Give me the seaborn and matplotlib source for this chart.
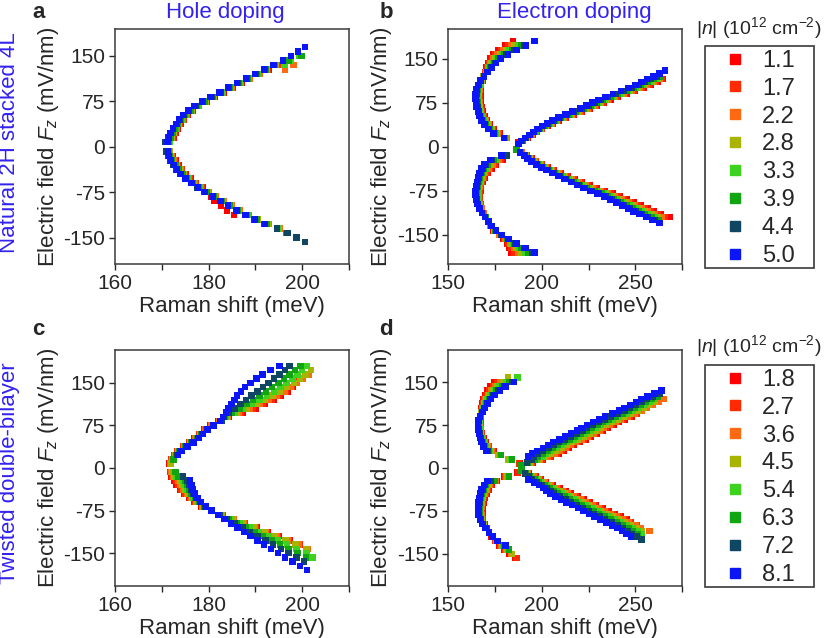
import pandas as pd
import seaborn as sns
import matplotlib.pyplot as plt
from matplotlib.lines import Line2D
from matplotlib.patches import Rectangle

sns.set_style('ticks')
plt.rcParams['font.family'] = ['Liberation Sans', 'DejaVu Sans']
plt.rcParams['mathtext.fontset'] = 'custom'
plt.rcParams['mathtext.rm'] = 'Liberation Sans'
plt.rcParams['mathtext.it'] = 'Liberation Sans:italic'
plt.rcParams['axes.unicode_minus'] = False

# doping levels |n| (10^12 cm^-2) and their colours
n_top = ['1.1', '1.7', '2.2', '2.8', '3.3', '3.9', '4.4', '5.0']
n_bot = ['1.8', '2.7', '3.6', '4.5', '5.4', '6.3', '7.2', '8.1']
colors = ['#ff0000', '#ff2a00', '#ff6a10', '#a8b400', '#3cd21e', '#12a512', '#0e4664', '#0a16f5']

# each branch: field values (mV/nm) + per density (first field index, Raman shifts in meV)
# ---- a : natural 4L, hole doping
a_up_field = [7.5, 15, 22.5, 30, 37.5, 45, 52.5, 60, 67.5, 75, 82.5, 90, 97.5, 105, 112.5, 120, 127.5, 135, 142.5, 150, 157.5, 165]
a_up = {
    '1.1': (1, [172.6, 173.0, 173.4, 174.0, 174.7, 175.5, 176.6, 178.0, 179.6, 181.3, 183.2, 185.1, 187.0, 188.9, 190.8, 192.8]),
    '1.7': (1, [172.4, 172.8, 173.3, 173.9, 174.6, 175.4, 176.5, 177.9, 179.5, 181.2, 183.1, 185.0, 186.9, 188.8, 190.7, 192.7, 194.8]),
    '2.2': (0, [171.8, 172.2, 172.6, 173.1, 173.7, 174.4, 175.3, 176.4, 177.8, 179.4, 181.1, 183.0, 184.9, 186.8, 188.7, 191.0, 196.3, 198.1]),
    '2.8': (0, [171.7, 172.1, 172.5, 173.0, 173.6, 174.3, 175.2, 176.3, 177.7, 179.3, 181.0, 182.9, 184.8, 186.7, 188.6, 190.5, 192.4, 194.4, 197.0]),
    '3.3': (0, [171.6, 172.0, 172.4, 172.9, 173.5, 174.2, 175.1, 176.2, 177.6, 179.2, 180.9, 182.8, 184.7, 186.6, 188.5, 190.4, 192.3, 196.2, 197.5, 199.4]),
    '3.9': (0, [171.5, 171.9, 172.3, 172.8, 173.4, 174.1, 175.0, 176.1, 177.5, 179.1, 180.8, 182.7, 184.6, 186.5, 188.4, 190.3, 192.2, 194.2, 197.1, 199.9]),
    '4.4': (0, [170.8, 171.3, 171.8, 172.4, 173.1, 173.8, 174.7, 175.8, 177.2, 178.8, 180.6, 182.5, 184.4, 186.3, 188.2, 190.1, 192.0, 194.0]),
    '5.0': (0, [171.2, 171.5, 171.9, 172.4, 173.0, 173.7, 174.5, 175.6, 177.0, 178.6, 180.4, 182.3, 184.2, 186.1, 188.0, 189.9, 191.8, 193.9, 195.9, 197.6, 199.1, 200.6]),
}
a_dn_field = [-7.5, -15, -22.5, -30, -37.5, -45, -52.5, -60, -67.5, -75, -82.5, -90, -97.5, -105, -112.5, -120, -127.5, -135, -142.5, -150, -157.5]
a_dn = {
    '1.1': (1, [172.3, 172.9, 173.6, 174.3, 175.1, 176.1, 177.3, 178.7, 179.8, 180.5, 181.3, 182.7, 183.9, 185.4]),
    '1.7': (0, [171.8, 172.2, 172.8, 173.5, 174.2, 175.0, 176.0, 177.2, 178.6, 180.1, 181.5, 182.9, 184.5, 186.4, 188.5, 190.5, 192.6]),
    '2.2': (0, [171.7, 172.1, 172.6, 173.3, 174.0, 174.8, 175.8, 177.0, 178.4, 180.0, 181.6, 183.2, 184.9, 186.7, 188.6, 190.6, 192.9, 195.3]),
    '2.8': (0, [171.6, 171.9, 172.4, 173.1, 173.8, 174.6, 175.6, 176.8, 178.2, 179.8, 181.4, 183.0, 184.7, 186.5, 188.4, 190.4, 192.7, 195.0]),
    '3.3': (0, [171.5, 171.8, 172.3, 173.0, 173.7, 174.5, 175.5, 176.7, 178.1, 179.7, 181.3, 182.9, 184.6, 186.4, 188.3, 190.3, 192.5, 194.8, 196.8]),
    '3.9': (0, [171.4, 171.7, 172.2, 172.9, 173.6, 174.4, 175.4, 176.6, 178.0, 179.6, 181.2, 182.8, 184.5, 186.3, 188.2, 190.2, 192.4, 194.6, 196.6]),
    '4.4': (0, [171.0, 171.4, 171.9, 172.5, 173.2, 174.0, 175.0, 176.2, 177.6, 179.1, 180.8, 182.4, 184.1, 185.9, 187.8, 189.8, 192.0, 194.6, 196.9, 198.8, 200.6]),
    '5.0': (0, [171.3, 171.5, 172.0, 172.6, 173.3, 174.1, 175.1, 176.3, 177.7, 179.2, 180.9, 182.5, 184.2, 186.0, 187.9, 189.9, 192.1]),
}

# ---- b : natural 4L, electron doping
b_arc_up_field = [7.5, 15, 22.5, 30, 37.5, 45, 52.5, 60, 67.5, 75, 82.5, 90, 97.5, 105, 112.5, 120, 127.5, 135, 142.5, 150, 157.5, 165, 172.5, 180]
b_arc_up = {
    '1.1': (0, [187.5, 181.5, 177.5, 174.5, 172.3, 170.6, 169.3, 168.4, 167.8, 167.4, 167.2, 167.2, 167.3, 167.6, 168.2, 168.9, 169.6, 170.4, 171.3, 172.5, 174.1, 176.6, 180.5, 184.5]),
    '1.7': (1, [181.2, 177.0, 174.0, 171.9, 170.2, 168.9, 168.0, 167.4, 167.0, 166.8, 166.8, 167.0, 167.3, 168.1, 168.9, 169.8, 170.8, 171.9, 173.4, 175.3, 178.1, 182.2]),
    '2.2': (1, [181.0, 176.5, 173.5, 171.4, 169.8, 168.5, 167.6, 167.0, 166.6, 166.4, 166.5, 166.6, 167.1, 167.9, 168.9, 170.1, 171.3, 172.6, 174.2, 176.4, 179.5, 183.8]),
    '2.8': (1, [180.7, 176.0, 173.1, 171.0, 169.3, 168.1, 167.2, 166.6, 166.2, 166.0, 166.1, 166.3, 166.8, 167.8, 168.9, 170.3, 171.7, 173.2, 175.1, 177.6, 181.0, 185.5]),
    '3.3': (1, [180.4, 175.5, 172.6, 170.5, 168.9, 167.7, 166.8, 166.2, 165.8, 165.6, 165.7, 166.0, 166.6, 167.6, 169.0, 170.5, 172.1, 173.9, 176.0, 178.8, 182.5, 187.2]),
    '3.9': (1, [180.2, 175.0, 172.1, 170.1, 168.5, 167.3, 166.5, 165.9, 165.5, 165.3, 165.3, 165.7, 166.3, 167.5, 169.0, 170.7, 172.6, 174.5, 176.9, 180.0, 184.0, 188.8]),
    '4.4': (1, [179.9, 174.5, 171.6, 169.6, 168.1, 166.9, 166.1, 165.5, 165.1, 164.9, 165.0, 165.3, 166.1, 167.3, 169.0, 171.0, 173.0, 175.2, 177.7, 181.1, 185.4, 190.5]),
    '5.0': (1, [179.7, 174.2, 171.3, 169.3, 167.8, 166.6, 165.8, 165.2, 164.8, 164.6, 164.7, 165.1, 165.9, 167.2, 169.0, 171.1, 173.3, 175.6, 178.3, 181.9, 186.4, 191.6, 196.0]),
}
b_line_up_field = [5, 10, 15, 20, 25, 30, 35, 40, 45, 50, 55, 60, 65, 70, 75, 80, 85, 90, 95, 100, 105, 110, 115, 120, 125, 130]
b_line_up = {
    '1.1': (0, [187.8, 189.7, 192.2, 194.9, 197.5, 200.2, 203.0, 205.9, 209.1, 212.8, 217.0, 221.2, 225.6, 229.4, 233.1, 236.6, 240.8, 245.3, 249.8, 254.3, 258.3, 262.0, 264.8]),
    '1.7': (0, [187.8, 189.6, 192.1, 194.7, 197.3, 199.9, 202.7, 205.5, 208.7, 212.3, 216.5, 220.6, 225.0, 228.7, 232.4, 235.8, 240.0, 244.4, 248.9, 253.3, 257.3, 260.9, 264.3]),
    '2.2': (0, [187.7, 189.5, 191.9, 194.5, 197.0, 199.6, 202.3, 205.1, 208.2, 211.8, 215.9, 220.0, 224.3, 228.0, 231.6, 235.0, 239.1, 243.5, 247.9, 252.3, 256.2, 259.8, 263.1]),
    '2.8': (0, [187.7, 189.4, 191.8, 194.3, 196.8, 199.3, 202.0, 204.7, 207.8, 211.3, 215.4, 219.4, 223.7, 227.3, 230.9, 234.2, 238.3, 242.6, 247.0, 251.3, 255.2, 258.7, 262.0]),
    '3.3': (0, [187.6, 189.3, 191.6, 194.1, 196.5, 199.0, 201.6, 204.3, 207.3, 210.8, 214.8, 218.8, 223.0, 226.6, 230.1, 233.4, 237.4, 241.7, 246.0, 250.3, 254.1, 257.6, 260.8]),
    '3.9': (0, [187.6, 189.2, 191.5, 193.9, 196.3, 198.7, 201.3, 203.9, 206.9, 210.3, 214.3, 218.2, 222.4, 225.9, 229.4, 232.6, 236.6, 240.8, 245.1, 249.3, 253.0, 256.5, 259.7, 263.1]),
    '4.4': (0, [187.5, 189.1, 191.2, 193.6, 195.9, 198.3, 200.7, 203.3, 206.2, 209.6, 213.4, 217.3, 221.4, 224.9, 228.2, 231.4, 235.3, 239.5, 243.6, 247.8, 251.5, 254.9, 257.9, 261.3]),
    '5.0': (0, [187.4, 188.9, 191.0, 193.3, 195.5, 197.8, 200.2, 202.7, 205.5, 208.8, 212.6, 216.4, 220.4, 223.8, 227.1, 230.2, 234.0, 238.1, 242.2, 246.3, 249.9, 253.2, 256.2, 259.5, 262.8, 265.8]),
}
b_arc_dn_field = [-7.5, -15, -22.5, -30, -37.5, -45, -52.5, -60, -67.5, -75, -82.5, -90, -97.5, -105, -112.5, -120, -127.5, -135, -142.5, -150, -157.5, -165, -172.5, -180]
b_arc_dn = {
    '1.1': (2, [179.0, 175.5, 173.0, 171.0, 169.5, 168.4, 167.6, 167.1, 166.9, 167.0, 167.4, 168.1, 169.0, 170.1, 171.3, 172.6, 174.2, 177.0, 179.6, 181.4, 182.6, 183.4]),
    '1.7': (2, [178.0, 174.6, 172.2, 170.4, 169.0, 168.0, 167.2, 166.7, 166.6, 166.7, 167.1, 167.9, 168.9, 170.0, 171.3, 172.7, 174.4, 177.3, 180.0, 182.2, 183.9, 185.3]),
    '2.2': (2, [177.1, 173.7, 171.5, 169.7, 168.5, 167.5, 166.8, 166.4, 166.2, 166.3, 166.8, 167.7, 168.7, 170.0, 171.3, 172.7, 174.6, 177.5, 180.4, 182.9, 185.2, 187.2]),
    '2.8': (2, [176.1, 172.8, 170.7, 169.1, 167.9, 167.1, 166.4, 166.0, 165.9, 166.0, 166.6, 167.4, 168.6, 169.9, 171.3, 172.8, 174.8, 177.8, 180.8, 183.7, 186.5, 189.1]),
    '3.3': (2, [175.2, 171.9, 169.9, 168.5, 167.4, 166.6, 166.0, 165.7, 165.5, 165.7, 166.3, 167.2, 168.4, 169.9, 171.4, 172.8, 175.0, 178.0, 181.2, 184.5, 187.8, 191.0]),
    '3.9': (2, [174.2, 171.0, 169.2, 167.9, 166.9, 166.2, 165.7, 165.3, 165.2, 165.4, 166.0, 167.0, 168.3, 169.8, 171.4, 172.9, 175.2, 178.3, 181.6, 185.2, 189.1, 192.9]),
    '4.4': (1, [181.0, 173.2, 170.1, 168.4, 167.2, 166.4, 165.7, 165.3, 164.9, 164.8, 165.0, 165.7, 166.8, 168.1, 169.7, 171.4, 173.0, 175.4, 178.5, 181.9, 186.0, 190.4, 194.7]),
    '5.0': (1, [178.5, 172.6, 169.5, 167.9, 166.8, 166.0, 165.4, 165.0, 164.7, 164.6, 164.8, 165.5, 166.6, 168.0, 169.7, 171.4, 173.0, 175.5, 178.7, 182.2, 186.5, 191.3, 196.0]),
}
b_line_dn_field = [-5, -10, -15, -20, -25, -30, -35, -40, -45, -50, -55, -60, -65, -70, -75, -80, -85, -90, -95, -100, -105, -110, -115, -120, -125, -130]
b_line_dn = {
    '1.1': (0, [186.8, 189.3, 191.9, 194.4, 196.9, 200.1, 203.3, 206.6, 210.2, 213.9, 217.6, 221.5, 225.4, 229.3, 233.6, 237.8, 241.6, 245.3, 249.0, 252.8, 256.4, 260.0, 263.7, 268.5]),
    '1.7': (0, [186.7, 189.2, 191.7, 194.1, 196.5, 199.7, 202.8, 206.0, 209.5, 213.2, 216.8, 220.6, 224.4, 228.3, 232.5, 236.6, 240.3, 244.0, 247.6, 251.3, 254.8, 258.4, 262.0, 265.7]),
    '2.2': (0, [186.7, 189.0, 191.5, 193.8, 196.2, 199.2, 202.3, 205.4, 208.9, 212.4, 216.0, 219.7, 223.5, 227.2, 231.4, 235.4, 239.1, 242.6, 246.2, 249.8, 253.3, 256.7, 260.3, 263.9]),
    '2.8': (0, [186.6, 188.9, 191.2, 193.5, 195.8, 198.8, 201.7, 204.8, 208.2, 211.7, 215.1, 218.8, 222.5, 226.2, 230.2, 234.2, 237.8, 241.3, 244.7, 248.3, 251.7, 255.1, 258.5, 262.1]),
    '3.3': (0, [186.5, 188.7, 191.0, 193.2, 195.4, 198.3, 201.2, 204.2, 207.5, 210.9, 214.3, 217.9, 221.5, 225.1, 229.1, 233.0, 236.5, 239.9, 243.3, 246.8, 250.1, 253.4, 256.8, 260.3]),
    '3.9': (0, [186.4, 188.6, 190.8, 192.9, 195.0, 197.9, 200.7, 203.6, 206.8, 210.2, 213.5, 217.0, 220.5, 224.1, 228.0, 231.8, 235.2, 238.6, 241.9, 245.3, 248.5, 251.8, 255.1, 258.5, 262.2]),
    '4.4': (1, [188.4, 190.6, 192.6, 194.7, 197.4, 200.2, 203.0, 206.2, 209.4, 212.7, 216.1, 219.6, 223.0, 226.9, 230.6, 234.0, 237.2, 240.5, 243.8, 247.0, 250.1, 253.4, 256.7, 260.4]),
    '5.0': (1, [188.3, 190.4, 192.4, 194.4, 197.1, 199.8, 202.6, 205.7, 208.9, 212.1, 215.5, 218.9, 222.3, 226.1, 229.8, 233.1, 236.3, 239.5, 242.8, 245.9, 249.0, 252.2, 255.5, 259.1, 262.7]),
}

# ---- c : twisted double bilayer, hole doping
c_up_field = [7.5, 15, 22.5, 30, 37.5, 45, 52.5, 60, 67.5, 75, 82.5, 90, 97.5, 105, 112.5, 120, 127.5, 135, 142.5, 150, 157.5, 165, 172.5, 180]
c_up = {
    '1.8': (0, [171.7, 172.0, 172.6, 173.3, 174.5, 175.8, 177.0, 178.0, 179.1, 180.4, 182.1, 184.4, 187.3, 190.0, 192.1, 193.9, 195.5, 196.9, 198.0, 198.6]),
    '2.7': (0, [171.8, 172.1, 172.7, 173.4, 174.6, 175.9, 177.1, 178.1, 179.2, 180.5, 182.2, 184.2, 186.9, 189.5, 191.6, 193.4, 195.0, 196.5, 197.7, 198.7, 199.4]),
    '3.6': (0, [171.9, 172.2, 172.8, 173.5, 174.7, 176.0, 177.2, 178.2, 179.3, 180.6, 182.3, 184.0, 186.5, 188.9, 191.0, 192.9, 194.6, 196.2, 197.6, 198.9, 200.1, 201.4]),
    '4.5': (0, [172.0, 172.3, 172.9, 173.6, 174.8, 176.1, 177.3, 178.3, 179.4, 180.7, 182.4, 183.8, 186.0, 188.2, 190.2, 192.0, 193.7, 195.3, 196.8, 198.2, 199.5, 200.7, 201.9]),
    '5.4': (1, [172.4, 173.0, 173.7, 174.9, 176.2, 177.4, 178.4, 179.5, 180.8, 182.5, 183.6, 185.5, 187.4, 189.2, 190.9, 192.5, 194.0, 195.4, 196.7, 197.9, 199.0, 200.0, 200.9]),
    '6.3': (1, [172.5, 173.1, 173.8, 175.0, 176.3, 177.5, 178.5, 179.6, 180.9, 182.6, 183.4, 185.0, 186.6, 188.1, 189.5, 190.9, 192.3, 193.6, 194.9, 196.1, 197.3, 198.5, 199.6]),
    '7.2': (2, [173.3, 174.0, 175.2, 176.5, 177.7, 178.7, 179.8, 181.1, 182.8, 183.2, 184.4, 185.6, 186.8, 188.0, 189.2, 190.4, 191.6, 192.8, 194.0, 195.2, 196.3, 197.3]),
    '8.1': (2, [173.5, 174.2, 175.5, 176.8, 177.8, 178.8, 179.8, 181.0, 182.4, 183.1, 183.7, 184.3, 184.9, 185.5, 186.1, 186.9, 187.8, 189.0, 190.2, 191.5, 193.2, 195.2]),
}
c_dn_field = [-7.5, -15, -22.5, -30, -37.5, -45, -52.5, -60, -67.5, -75, -82.5, -90, -97.5, -105, -112.5, -120, -127.5, -135, -142.5, -150, -157.5, -165, -172.5, -180]
c_dn = {
    '1.8': (0, [171.8, 172.1, 172.7, 173.2, 173.9, 174.9, 175.8, 177.0, 178.5, 180.6, 183.0, 185.4, 187.8, 190.2, 192.6, 195.0, 197.4]),
    '2.7': (0, [171.9, 172.2, 173.0, 173.5, 174.2, 175.1, 176.0, 177.1, 178.6, 180.6, 183.0, 185.3, 187.7, 190.1, 192.4, 194.8, 197.1, 199.5]),
    '3.6': (0, [172.0, 172.4, 173.5, 174.0, 174.6, 175.4, 176.3, 177.4, 178.7, 180.6, 182.9, 185.3, 187.6, 189.9, 192.2, 194.6, 196.9, 199.2, 201.2]),
    '4.5': (0, [172.2, 172.7, 174.0, 174.4, 175.0, 175.7, 176.5, 177.6, 178.9, 180.6, 182.9, 185.1, 187.4, 189.6, 191.9, 194.1, 196.4, 198.6, 200.9]),
    '5.4': (0, [172.6, 173.2, 174.5, 174.9, 175.4, 176.1, 176.8, 177.8, 179.0, 180.6, 182.6, 184.7, 186.7, 188.7, 190.7, 192.8, 194.8, 196.8, 198.8, 200.9, 202.2]),
    '6.3': (0, [172.9, 173.6, 175.0, 175.4, 175.8, 176.4, 177.1, 178.0, 179.1, 180.6, 182.4, 184.3, 186.1, 188.0, 189.8, 191.6, 193.5, 195.3, 197.1, 199.0, 200.8]),
    '7.2': (1, [174.5, 175.5, 175.8, 176.2, 176.7, 177.4, 178.2, 179.3, 180.6, 182.3, 183.9, 185.6, 187.2, 188.9, 190.5, 192.2, 193.8, 195.5, 197.1, 198.8, 200.4]),
    '8.1': (2, [176.0, 176.3, 176.6, 177.0, 177.6, 178.4, 179.4, 180.6, 182.0, 183.4, 184.8, 186.2, 187.6, 189.0, 190.4, 191.8, 193.3, 194.8, 196.3, 197.9, 199.5, 201.0]),
}

# ---- d : twisted double bilayer, electron doping
d_arc_up_field = [7.5, 15, 22.5, 30, 37.5, 45, 52.5, 60, 67.5, 75, 82.5, 90, 97.5, 105, 112.5, 120, 127.5, 135, 142.5, 150, 157.5]
d_arc_up = {
    '1.8': (0, [188.0, 183.0, 178.0, 174.3, 171.8, 170.0, 168.8, 168.0, 167.5, 167.3, 167.3, 167.4, 167.6, 167.9, 168.3, 168.8, 169.6, 170.9, 172.7, 174.6]),
    '2.7': (0, [187.7, 182.7, 177.6, 173.7, 171.4, 169.7, 168.5, 167.8, 167.3, 167.1, 167.1, 167.3, 167.7, 168.1, 168.7, 169.4, 170.4, 171.9, 173.9, 176.2]),
    '3.6': (1, [182.3, 177.2, 173.2, 170.9, 169.4, 168.3, 167.5, 167.1, 166.9, 167.0, 167.3, 167.8, 168.4, 169.1, 169.9, 171.2, 172.9, 175.1, 177.7]),
    '4.5': (1, [182.0, 176.8, 172.6, 170.5, 169.1, 168.0, 167.3, 166.8, 166.7, 166.8, 167.2, 167.9, 168.6, 169.5, 170.5, 171.9, 173.9, 176.3, 179.3, 181.9]),
    '5.4': (1, [183.5, 177.8, 172.0, 170.1, 168.7, 167.7, 167.0, 166.6, 166.5, 166.6, 167.2, 168.0, 168.9, 169.9, 171.1, 172.7, 174.9, 177.4, 180.8, 187.0]),
    '6.3': (1, [184.0, 178.3, 171.5, 169.6, 168.4, 167.5, 166.8, 166.4, 166.3, 166.5, 167.1, 168.1, 169.1, 170.3, 171.7, 173.5, 175.9, 178.6, 182.4]),
    '7.2': (3, [170.9, 169.2, 168.1, 167.2, 166.6, 166.2, 166.0, 166.3, 167.0, 168.1, 169.3, 170.7, 172.2, 174.3, 176.9, 179.8, 184.0]),
    '8.1': (3, [170.5, 168.9, 167.9, 167.0, 166.4, 166.0, 165.9, 166.2, 167.0, 168.2, 169.5, 171.0, 172.6, 174.8, 177.6, 180.6, 185.0]),
}
d_line_up_field = [5, 10, 15, 20, 25, 30, 35, 40, 45, 50, 55, 60, 65, 70, 75, 80, 85, 90, 95, 100, 105, 110, 115, 120, 125, 130, 135]
d_line_up = {
    '1.8': (0, [189.5, 195.0, 200.5, 205.0, 208.8, 211.5, 214.5, 217.2, 220.0, 223.3, 226.3, 229.5, 232.7, 235.2, 238.2, 241.2, 244.4, 247.8]),
    '2.7': (0, [189.4, 194.6, 199.8, 204.0, 207.8, 210.5, 213.5, 216.2, 219.0, 222.3, 225.3, 228.5, 231.7, 234.2, 237.2, 240.2, 243.4, 246.8, 250.7]),
    '3.6': (0, [189.3, 194.2, 199.0, 203.0, 206.8, 209.5, 212.5, 215.2, 218.0, 221.3, 224.3, 227.5, 230.7, 233.2, 236.2, 239.2, 242.4, 245.8, 249.7, 253.1, 256.2, 259.3, 262.2, 265.0]),
    '4.5': (0, [189.2, 193.8, 198.2, 201.8, 204.8, 207.5, 210.5, 213.2, 216.0, 219.3, 222.3, 225.5, 228.7, 231.2, 234.2, 237.2, 240.4, 243.8, 247.7, 251.1, 254.2, 257.3, 260.2]),
    '5.4': (0, [189.1, 193.2, 197.2, 200.0, 202.3, 205.0, 208.0, 210.7, 213.5, 216.8, 219.8, 223.0, 226.2, 228.7, 231.7, 234.7, 237.9, 241.3, 245.2, 248.6, 251.7, 254.8, 257.7, 260.5]),
    '6.3': (0, [189.0, 192.6, 196.0, 198.0, 200.3, 203.0, 206.0, 208.7, 211.5, 214.8, 217.8, 221.0, 224.2, 226.7, 229.7, 232.7, 235.9, 239.3, 243.2, 246.6, 249.7, 252.8, 255.7, 258.5, 261.9]),
    '7.2': (1, [192.0, 194.5, 195.5, 197.8, 200.5, 203.5, 206.2, 209.0, 212.3, 215.3, 218.5, 221.7, 224.2, 227.2, 230.2, 233.4, 236.8, 240.7, 244.1, 247.2, 250.3, 253.2, 256.0, 259.4, 263.2]),
    '8.1': (3, [192.5, 194.8, 197.5, 200.5, 203.2, 206.0, 209.3, 212.3, 215.5, 218.7, 221.2, 224.2, 227.2, 230.4, 233.8, 237.7, 241.1, 244.2, 247.3, 250.2, 253.0, 256.4, 260.2, 264.0]),
}
d_arc_dn_field = [-7.5, -15, -22.5, -30, -37.5, -45, -52.5, -60, -67.5, -75, -82.5, -90, -97.5, -105, -112.5, -120, -127.5, -135, -142.5, -150, -157.5]
d_arc_dn = {
    '1.8': (0, [187.0, 180.0, 175.8, 173.3, 171.6, 170.4, 169.5, 168.9, 168.5, 168.3, 168.3, 168.6, 169.3, 170.4, 171.7, 173.2, 175.0, 177.2, 179.7, 182.6, 186.0]),
    '2.7': (0, [187.3, 180.5, 175.5, 172.7, 171.0, 169.9, 169.1, 168.5, 168.1, 168.0, 168.0, 168.4, 169.1, 170.3, 171.7, 173.3, 175.2, 177.7, 180.5, 183.5, 186.5]),
    '3.6': (1, [181.0, 175.3, 172.0, 170.5, 169.4, 168.6, 168.1, 167.8, 167.6, 167.7, 168.1, 169.0, 170.2, 171.7, 173.4, 175.4, 178.2, 181.0, 183.5]),
    '4.5': (1, [181.5, 175.1, 171.4, 169.9, 168.9, 168.2, 167.7, 167.4, 167.3, 167.4, 167.9, 168.8, 170.1, 171.7, 173.5, 175.6, 178.7, 181.5, 184.0]),
    '5.4': (1, [182.0, 174.9, 170.8, 169.4, 168.4, 167.8, 167.3, 167.1, 166.9, 167.0, 167.6, 168.6, 170.0, 171.7, 173.6, 175.8, 179.2, 182.0]),
    '6.3': (1, [182.5, 174.7, 170.2, 168.8, 167.9, 167.3, 166.9, 166.7, 166.6, 166.7, 167.4, 168.5, 170.0, 171.7, 173.7, 176.0, 179.7, 182.5]),
    '7.2': (2, [172.5, 169.5, 168.3, 167.4, 166.9, 166.6, 166.3, 166.2, 166.4, 167.2, 168.3, 169.9, 171.7, 173.7, 176.2, 180.2]),
    '8.1': (2, [171.0, 169.1, 167.9, 167.1, 166.6, 166.3, 166.1, 166.0, 166.2, 167.0, 168.2, 169.8, 171.7, 173.8, 176.3, 180.5]),
}
d_line_dn_field = [-5, -10, -15, -20, -25, -30, -35, -40, -45, -50, -55, -60, -65, -70, -75, -80, -85, -90, -95, -100, -105, -110, -115, -120, -125]
d_line_dn = {
    '1.8': (0, [189.5, 193.0, 196.5, 199.5, 202.3, 205.6, 209.3, 212.6, 215.3, 219.0, 222.4, 225.5, 229.0, 232.4, 235.7, 238.9, 242.0, 245.2]),
    '2.7': (0, [189.4, 192.7, 196.0, 199.0, 201.8, 205.0, 208.6, 211.8, 214.4, 218.1, 221.4, 224.5, 228.0, 231.3, 234.6, 237.8, 240.9, 244.1, 247.7, 250.9]),
    '3.6': (0, [189.3, 192.4, 195.5, 198.4, 201.3, 204.6, 208.0, 211.1, 213.7, 217.3, 220.6, 223.6, 227.1, 230.4, 233.7, 236.8, 239.9, 243.1, 246.6, 249.9, 253.0, 257.5]),
    '4.5': (0, [189.2, 192.0, 194.8, 197.6, 200.4, 203.5, 206.8, 209.6, 212.0, 215.5, 218.7, 221.8, 225.1, 228.4, 231.7, 234.8, 237.8, 240.9, 244.5, 247.7, 250.8, 253.3]),
    '5.4': (0, [189.1, 191.6, 194.1, 196.8, 199.4, 202.5, 205.5, 208.1, 210.4, 213.7, 216.9, 219.9, 223.2, 226.5, 229.6, 232.7, 235.7, 238.8, 242.3, 245.5, 248.5, 251.1, 253.5]),
    '6.3': (0, [189.0, 191.3, 193.5, 196.0, 198.4, 201.4, 204.2, 206.6, 208.7, 212.0, 215.1, 218.0, 221.2, 224.5, 227.6, 230.6, 233.6, 236.7, 240.2, 243.3, 246.3, 248.8, 251.2]),
    '7.2': (1, [191.0, 192.8, 194.8, 197.1, 200.0, 202.5, 204.6, 206.5, 209.6, 212.6, 215.5, 218.6, 221.8, 224.9, 227.9, 230.8, 233.8, 237.3, 240.4, 243.4, 245.8, 248.1, 250.6, 253.1]),
    '8.1': (3, [193.0, 195.8, 198.6, 200.8, 202.6, 204.3, 207.3, 210.2, 213.0, 216.0, 219.2, 222.2, 225.1, 228.0, 231.0, 234.4, 237.5, 240.4, 242.8, 245.1, 247.5]),
}


def make_df(branches, order):
    rows = []
    for field, branch in branches:
        for n, (start, shifts) in branch.items():
            for j, x in enumerate(shifts):
                rows.append((n, x, field[start + j]))
    df = pd.DataFrame(rows, columns=['n', 'shift', 'field'])
    df['n'] = pd.Categorical(df['n'], categories=order, ordered=True)
    return df.sort_values('n', kind='stable')


panels = [
    ('a', [0.139, 0.586, 0.283, 0.368], [(a_up_field, a_up), (a_dn_field, a_dn)], n_top, (160, 210), [160, 180, 200], [170, 190, 210], 194),
    ('b', [0.542, 0.586, 0.283, 0.368], [(b_arc_up_field, b_arc_up), (b_line_up_field, b_line_up),
                                        (b_arc_dn_field, b_arc_dn), (b_line_dn_field, b_line_dn)], n_top, (150, 275), [150, 200, 250], [175, 225, 275], 200),
    ('c', [0.139, 0.0815, 0.283, 0.370], [(c_up_field, c_up), (c_dn_field, c_dn)], n_bot, (160, 210), [160, 180, 200], [170, 190, 210], 208),
    ('d', [0.542, 0.0815, 0.283, 0.370], [(d_arc_up_field, d_arc_up), (d_line_up_field, d_line_up),
                                        (d_arc_dn_field, d_arc_dn), (d_line_dn_field, d_line_dn)], n_bot, (150, 275), [150, 200, 250], [175, 225, 275], 206),
]

fig = plt.figure(figsize=(8.27, 6.38), dpi=100)
label_pos = {'a': (0.039, 0.997), 'b': (0.459, 0.997), 'c': (0.039, 0.500), 'd': (0.459, 0.500)}

for name, rect, branches, order, xlim, xt, xminor, ylim in panels:
    ax = fig.add_axes(rect)
    df = make_df(branches, order)
    sns.scatterplot(data=df, x='shift', y='field', hue='n', hue_order=order, palette=colors,
                    marker='s', s=22, linewidth=0, legend=False, ax=ax)
    ax.set_xlim(*xlim)
    ax.set_ylim(-ylim, ylim)
    ax.set_xticks(xt)
    ax.set_xticks(xminor, minor=True)
    ax.set_yticks([-150, -75, 0, 75, 150])
    ax.tick_params(which='both', direction='out', length=4, width=1, labelsize=15, pad=3)
    for sp in ax.spines.values():
        sp.set_color('#3a3a3a')
        sp.set_linewidth(1.1)
    ax.set_xlabel('Raman shift (meV)', fontsize=16, labelpad=2)
    ax.set_ylabel(r'Electric field $F_z$ (mV/nm)', fontsize=16, labelpad=2)
    fig.text(*label_pos[name], name, fontsize=16, fontweight='bold', va='top', ha='left')

blue_txt = '#3322ee'
fig.text(0.273, 0.980, 'Hole doping', color=blue_txt, fontsize=16, ha='center', va='center')
fig.text(0.695, 0.980, 'Electron doping', color=blue_txt, fontsize=16, ha='center', va='center')
fig.text(0.012, 0.776, 'Natural 2H stacked 4L', color=blue_txt, fontsize=16, rotation=90, ha='center', va='center')
fig.text(0.012, 0.259, 'Twisted double-bilayer', color=blue_txt, fontsize=16, rotation=90, ha='center', va='center')

# legends (one per row)
for labels, top, title_y in [(n_top, 0.928, 0.956), (n_bot, 0.428, 0.457)]:
    fig.patches.append(Rectangle((0.852, top - 0.348), 0.132, 0.348, transform=fig.transFigure,
                                 fill=False, edgecolor='#3a3a3a', linewidth=1.2))
    fig.text(0.917, title_y, r'$|n|$ (10$^{12}$ cm$^{-2}$)', fontsize=14, ha='center', va='center')
    handles = [Line2D([], [], linestyle='none', marker='s', markersize=7, color=c) for c in colors]
    fig.legend(handles, labels, loc='upper left', bbox_to_anchor=(0.874, top - 0.006), frameon=False,
               fontsize=17, handlelength=1.0, handletextpad=0.65, borderpad=0, borderaxespad=0,
               labelspacing=0.25)

fig.savefig('out.png', dpi=100)
